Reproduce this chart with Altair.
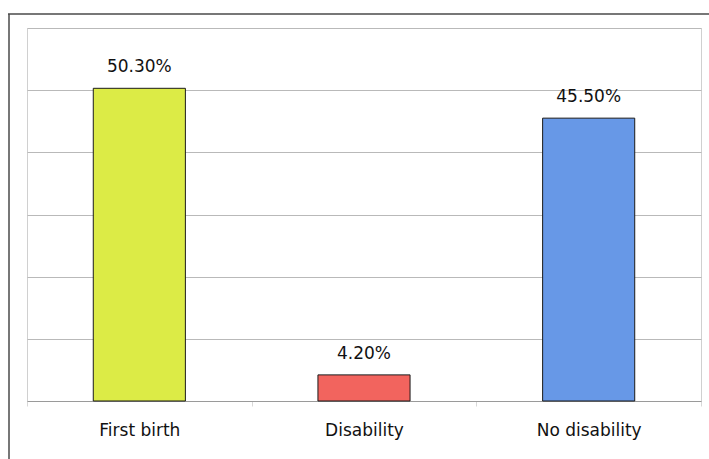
import altair as alt
import pandas as pd

# Share of respondents by group
categories = ["First birth", "Disability", "No disability"]
shares = [50.3, 4.2, 45.5]
bar_colors = ["#dceb46", "#f2645e", "#6798e7"]

df = pd.DataFrame({"group": categories, "share": shares, "color": bar_colors})

FONT = "DejaVu Sans"
W, H = 674, 373

base = alt.Chart(df)

x_enc = alt.X(
    "group:N",
    sort=categories,
    scale=alt.Scale(paddingInner=0, paddingOuter=0),
    axis=alt.Axis(
        title=None,
        labelAngle=0,
        labelFont=FONT,
        labelFontSize=17,
        labelColor="#111111",
        labelPadding=16,
        domain=True,
        domainColor="#9a9a9a",
        tickBand="extent",
        ticks=True,
        tickColor="#d8d8d8",
        tickSize=5,
    ),
)
y_enc = alt.Y(
    "share:Q",
    scale=alt.Scale(domain=[0, 60], nice=False),
    axis=alt.Axis(
        title=None,
        labels=False,
        ticks=False,
        domain=False,
        values=[0, 10, 20, 30, 40, 50, 60],
        grid=True,
        gridColor="#b9b9b9",
        gridWidth=1,
    ),
)

bars = base.mark_bar(
    width=alt.RelativeBandSize(0.41),
    stroke="#1a1a1a",
    strokeWidth=1,
).encode(
    x=x_enc,
    y=y_enc,
    color=alt.Color("color:N", scale=None),
)

labels = base.transform_calculate(
    label="format(datum.share, '.2f') + '%'"
).mark_text(
    font=FONT, fontSize=17, color="#111111", baseline="middle", dy=-21
).encode(
    x=alt.X("group:N", sort=categories),
    y=alt.Y("share:Q"),
    text="label:N",
)

# Outer frame lines around the figure
one = alt.Chart(pd.DataFrame({"k": [0]}))
frame_top = one.mark_rule(color="#4a4a4a", strokeWidth=1.5).encode(
    x=alt.value(-19), x2=alt.value(W + 8), y=alt.value(-14)
)
frame_left = one.mark_rule(color="#4a4a4a", strokeWidth=1.5).encode(
    x=alt.value(-18), y=alt.value(-14), y2=alt.value(H + 58)
)

chart = (
    alt.layer(bars, labels, frame_top, frame_left)
    .properties(
        width=W,
        height=H,
        padding={"left": 27, "top": 28, "right": 8, "bottom": 58},
        autosize=alt.AutoSizeParams(type="none"),
        background="white",
    )
    .configure_view(stroke="#d0d0d0", strokeWidth=1)
)

chart.save("out.html", embed_options={"renderer": "svg", "actions": False})
